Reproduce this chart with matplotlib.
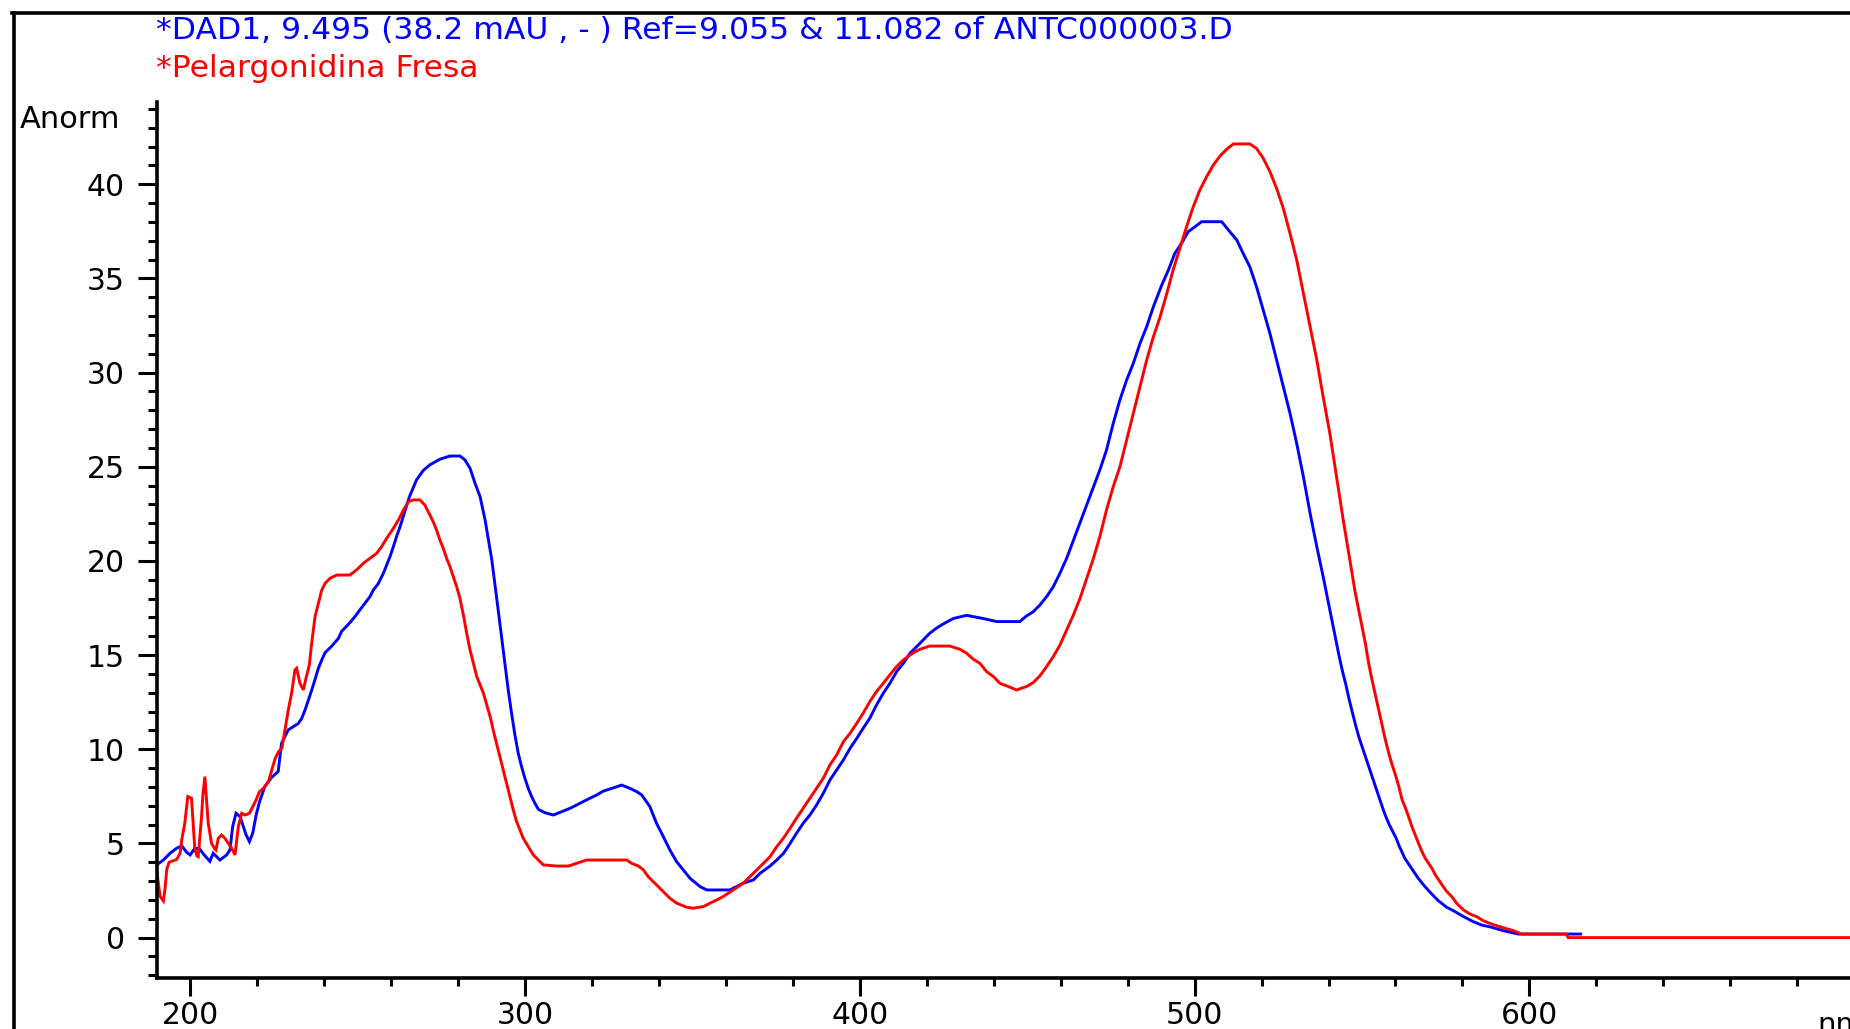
import matplotlib
matplotlib.use("Agg")
import matplotlib.pyplot as plt
from matplotlib.ticker import MultipleLocator, FixedLocator
from matplotlib.lines import Line2D

# ---------------- data ----------------
title_line1 = "*DAD1, 9.495 (38.2 mAU , - ) Ref=9.055 & 11.082 of ANTC000003.D"
title_line2 = "*Pelargonidina Fresa"
y_label = "Anorm"
x_unit = "nm"
x_major_ticks = [200, 300, 400, 500, 600]

blue_nm = [190.0, 192.0, 194.0, 196.0, 197.5, 199.0, 200.0, 201.4, 202.9, 203.9,
           205.9, 206.9, 208.9, 210.9, 211.9, 212.7, 213.7, 214.9, 216.7, 217.7,
           218.7, 219.7, 220.7, 222.3, 224.3, 226.3, 227.3, 229.3, 230.8, 232.3,
           233.3, 234.3, 235.3, 236.3, 237.3, 238.3, 239.3, 240.3, 242.3, 244.3,
           245.2, 247.7, 249.2, 250.7, 252.2, 253.7, 254.7, 256.2, 257.7, 258.7,
           259.7, 260.7, 261.7, 262.7, 263.7, 265.5, 266.7, 267.6, 269.6, 271.6,
           274.6, 277.6, 280.6, 282.1, 283.6, 285.1, 286.6, 288.1, 289.1, 290.1,
           291.0, 292.0, 293.0, 294.0, 295.0, 296.0, 297.0, 298.0, 299.0, 300.0,
           301.0, 302.0, 303.0, 304.0, 306.0, 308.5, 311.0, 313.4, 315.4, 317.4,
           319.4, 321.4, 323.4, 325.9, 328.9, 331.4, 333.4, 334.9, 336.3, 337.3,
           339.3, 341.3, 343.3, 345.3, 347.3, 349.3, 352.3, 354.3, 361.2, 365.2,
           368.2, 370.2, 373.2, 375.2, 377.2, 379.2, 381.1, 383.1, 385.1, 387.1,
           389.1, 391.1, 393.1, 395.1, 397.1, 399.1, 401.0, 403.0, 405.0, 407.0,
           409.0, 411.0, 413.0, 415.0, 417.0, 418.9, 420.9, 422.9, 424.9, 427.9,
           431.9, 436.9, 440.9, 447.8, 449.8, 451.8, 453.8, 455.8, 457.8, 459.8,
           461.8, 471.7, 473.7, 475.7, 477.7, 479.7, 481.7, 483.7, 485.7, 487.7,
           490.2, 492.2, 494.1, 496.1, 498.1, 500.1, 502.1, 508.1, 510.1, 512.6,
           514.5, 516.5, 518.5, 520.5, 522.5, 524.5, 526.5, 528.5, 530.5, 532.5,
           534.5, 536.5, 538.4, 540.2, 541.2, 542.2, 543.2, 544.2, 545.2, 546.2,
           547.2, 548.2, 549.2, 550.2, 551.2, 552.2, 553.2, 554.2, 555.2, 556.2,
           557.2, 558.2, 559.2, 560.2, 561.1, 562.8, 564.8, 566.8, 568.8, 570.8,
           572.8, 575.3, 577.3, 580.3, 583.2, 585.7, 588.7, 592.2, 596.7, 615.3]
blue_abs = [3.86, 4.12, 4.48, 4.75, 4.87, 4.52, 4.39, 4.75, 4.70, 4.45,
            4.05, 4.48, 4.12, 4.39, 4.66, 5.90, 6.60, 6.43, 5.46, 5.10,
            5.55, 6.50, 7.20, 8.02, 8.50, 8.82, 10.32, 11.03, 11.20, 11.37,
            11.63, 12.08, 12.60, 13.14, 13.71, 14.30, 14.74, 15.13, 15.48, 15.89,
            16.25, 16.72, 17.04, 17.40, 17.75, 18.10, 18.45, 18.80, 19.34, 19.78,
            20.23, 20.76, 21.32, 21.82, 22.39, 23.41, 23.91, 24.30, 24.80, 25.10,
            25.40, 25.57, 25.57, 25.36, 24.92, 24.12, 23.41, 22.17, 21.11, 20.05,
            18.81, 17.40, 15.98, 14.56, 13.15, 11.91, 10.76, 9.78, 9.07, 8.45,
            7.92, 7.48, 7.13, 6.81, 6.63, 6.51, 6.69, 6.86, 7.04, 7.22,
            7.40, 7.57, 7.78, 7.92, 8.10, 7.92, 7.75, 7.57, 7.22, 6.96,
            6.07, 5.37, 4.65, 4.03, 3.59, 3.15, 2.71, 2.53, 2.53, 2.89,
            3.06, 3.41, 3.80, 4.12, 4.47, 5.00, 5.54, 6.07, 6.51, 7.04,
            7.66, 8.37, 8.90, 9.43, 10.05, 10.58, 11.11, 11.65, 12.35, 12.97,
            13.50, 14.12, 14.56, 15.10, 15.45, 15.80, 16.16, 16.43, 16.65, 16.94,
            17.11, 16.94, 16.78, 16.78, 17.08, 17.30, 17.66, 18.10, 18.63, 19.35,
            20.14, 24.83, 25.89, 27.30, 28.55, 29.60, 30.49, 31.55, 32.44, 33.50,
            34.65, 35.45, 36.33, 36.86, 37.48, 37.74, 38.01, 38.01, 37.57, 37.04,
            36.33, 35.62, 34.56, 33.33, 32.08, 30.67, 29.25, 27.84, 26.24, 24.47,
            22.53, 20.76, 19.17, 17.58, 16.69, 15.81, 14.92, 14.12, 13.42, 12.62,
            11.91, 11.20, 10.58, 10.05, 9.52, 8.99, 8.46, 7.93, 7.40, 6.87,
            6.39, 5.98, 5.63, 5.28, 4.87, 4.21, 3.68, 3.15, 2.71, 2.32,
            1.96, 1.61, 1.43, 1.12, 0.85, 0.67, 0.55, 0.37, 0.19, 0.19]

red_nm = [190.0, 190.5, 191.0, 192.0, 192.5, 193.0, 193.7, 196.0, 197.0, 197.5,
          198.4, 199.3, 200.4, 201.4, 202.0, 202.4, 203.4, 203.8, 204.4, 205.4,
          206.4, 207.4, 207.7, 208.4, 209.4, 210.4, 211.4, 212.4, 213.4, 214.4,
          215.4, 216.4, 217.7, 218.7, 219.7, 220.7, 221.9, 223.4, 224.4, 225.4,
          226.4, 227.4, 228.4, 229.3, 230.3, 231.3, 231.8, 232.8, 233.8, 234.6,
          235.6, 236.3, 237.3, 238.3, 239.3, 240.3, 241.8, 243.8, 247.7, 249.7,
          251.7, 253.7, 255.7, 257.2, 258.7, 260.7, 262.2, 263.7, 265.2, 266.7,
          268.6, 270.1, 271.6, 272.6, 273.6, 274.6, 275.6, 276.6, 277.6, 278.6,
          279.6, 280.6, 281.6, 282.6, 283.6, 284.6, 285.6, 286.6, 287.6, 288.6,
          289.6, 290.5, 291.5, 292.5, 293.5, 294.5, 295.5, 296.5, 297.5, 298.5,
          299.5, 301.0, 302.5, 304.0, 305.5, 309.5, 313.0, 315.4, 318.4, 324.4,
          330.4, 331.9, 333.9, 335.4, 336.8, 339.3, 341.3, 343.3, 345.3, 348.3,
          350.3, 353.3, 355.3, 357.3, 359.2, 362.2, 365.2, 367.2, 369.2, 371.2,
          373.2, 375.2, 377.2, 379.2, 381.1, 383.1, 385.1, 387.1, 389.1, 391.1,
          393.1, 395.1, 397.1, 399.1, 401.0, 403.0, 405.0, 407.0, 409.0, 411.0,
          413.0, 416.0, 418.0, 420.9, 426.9, 429.9, 431.9, 433.9, 435.9, 437.9,
          439.9, 441.9, 444.4, 446.8, 449.8, 451.8, 453.8, 455.8, 457.8, 459.8,
          461.8, 463.8, 465.8, 467.8, 469.8, 471.7, 473.7, 475.7, 477.7, 479.7,
          481.7, 483.7, 485.7, 487.7, 489.7, 491.7, 493.6, 495.6, 497.6, 499.6,
          501.6, 503.6, 505.6, 507.6, 509.6, 511.6, 516.5, 518.5, 520.5, 522.5,
          524.5, 526.5, 528.5, 530.5, 532.5, 534.5, 536.5, 538.4, 540.4, 542.4,
          544.4, 546.4, 548.0, 549.0, 550.0, 551.0, 552.0, 553.0, 554.0, 555.0,
          556.0, 557.0, 558.0, 559.0, 560.0, 561.0, 562.0, 563.0, 563.9, 564.9,
          565.9, 566.9, 567.9, 568.9, 569.9, 570.9, 571.9, 572.9, 573.9, 575.3,
          576.8, 578.3, 580.3, 582.3, 584.2, 586.2, 588.7, 591.7, 595.2, 597.7,
          611.1, 611.6, 700.0]
red_abs = [3.60, 2.90, 2.20, 1.95, 2.60, 3.60, 4.00, 4.15, 4.48, 5.20,
           6.07, 7.49, 7.40, 4.70, 4.35, 4.30, 6.40, 7.57, 8.55, 6.07,
           5.00, 4.70, 4.65, 5.27, 5.45, 5.27, 5.00, 4.74, 4.39, 5.90,
           6.60, 6.51, 6.60, 6.96, 7.31, 7.75, 7.93, 8.29, 8.90, 9.52,
           9.87, 10.05, 11.11, 12.08, 12.97, 14.21, 14.30, 13.50, 13.15, 13.77,
           14.48, 15.63, 17.04, 17.75, 18.45, 18.81, 19.08, 19.25, 19.25, 19.52,
           19.87, 20.14, 20.40, 20.76, 21.20, 21.73, 22.17, 22.70, 23.15, 23.24,
           23.24, 22.97, 22.44, 22.08, 21.64, 21.11, 20.67, 20.14, 19.70, 19.17,
           18.63, 18.00, 17.13, 16.16, 15.27, 14.56, 13.86, 13.41, 12.97, 12.35,
           11.73, 11.03, 10.32, 9.61, 8.90, 8.20, 7.49, 6.78, 6.16, 5.72,
           5.27, 4.83, 4.39, 4.12, 3.86, 3.80, 3.80, 3.94, 4.12, 4.12,
           4.12, 3.94, 3.80, 3.59, 3.24, 2.80, 2.44, 2.09, 1.83, 1.61,
           1.56, 1.65, 1.83, 2.00, 2.18, 2.53, 2.89, 3.24, 3.59, 3.94,
           4.30, 4.83, 5.28, 5.81, 6.34, 6.87, 7.40, 7.93, 8.46, 9.17,
           9.70, 10.40, 10.85, 11.38, 11.91, 12.53, 13.06, 13.50, 13.95, 14.39,
           14.74, 15.13, 15.31, 15.48, 15.48, 15.31, 15.10, 14.78, 14.56, 14.12,
           13.86, 13.50, 13.33, 13.15, 13.33, 13.54, 13.90, 14.39, 14.92, 15.54,
           16.34, 17.13, 18.02, 19.08, 20.14, 21.29, 22.71, 23.94, 25.00, 26.42,
           27.84, 29.25, 30.67, 31.90, 32.96, 34.20, 35.45, 36.60, 37.74, 38.80,
           39.70, 40.40, 41.02, 41.50, 41.86, 42.14, 42.14, 41.90, 41.38, 40.67,
           39.78, 38.72, 37.39, 35.98, 34.20, 32.44, 30.67, 28.72, 26.77, 24.47,
           22.17, 20.00, 18.30, 17.40, 16.50, 15.63, 14.56, 13.68, 12.88, 12.08,
           11.29, 10.49, 9.79, 9.17, 8.64, 8.02, 7.31, 6.87, 6.43, 5.90,
           5.45, 5.00, 4.57, 4.21, 3.95, 3.68, 3.33, 3.06, 2.80, 2.45,
           2.18, 1.82, 1.47, 1.25, 1.12, 0.90, 0.72, 0.55, 0.37, 0.19,
           0.19, 0.00, 0.00]

# ---------------- figure ----------------
W, H = 1850, 1029
plt.rcParams['font.family'] = ['DejaVu Sans']
fig = plt.figure(figsize=(W / 100, H / 100), dpi=100)
fig.patch.set_facecolor('white')

ax_left = 157 / W
ax_bottom = (H - 978.3) / H
ax_top = (H - 102.3) / H
x_min, x_max = 190.1, 700.0
ax_width = (1864.2 - 157) / W
ax = fig.add_axes([ax_left, ax_bottom, ax_width, ax_top - ax_bottom])

ax.plot(blue_nm, blue_abs, color='#0000FF', lw=2.1, solid_joinstyle='miter')
ax.plot(red_nm, red_abs, color='#FF0000', lw=2.1, solid_joinstyle='miter')

ax.set_xlim(x_min, x_max)
ax.set_ylim(-2.16, 44.35)

for s in ['top', 'right']:
    ax.spines[s].set_visible(False)
for s in ['left', 'bottom']:
    ax.spines[s].set_linewidth(2.6)
    ax.spines[s].set_color('black')

ax.xaxis.set_major_locator(FixedLocator(x_major_ticks))
ax.xaxis.set_minor_locator(MultipleLocator(20))
ax.yaxis.set_major_locator(MultipleLocator(5))
ax.yaxis.set_minor_locator(MultipleLocator(1))

ax.tick_params(axis='y', which='major', direction='out', length=14, width=2.2,
               pad=9, labelsize=21.5, colors='black')
ax.tick_params(axis='y', which='minor', direction='out', length=6.5, width=2.2)
ax.tick_params(axis='x', which='major', direction='out', length=13, width=2.2,
               pad=3, labelsize=21.5, colors='black')
ax.tick_params(axis='x', which='minor', direction='out', length=6, width=2.2)

# texts
fig.text(156 / W, 1 - 39.3 / H, title_line1, color='#0000FF', fontsize=22.6,
         ha='left', va='baseline')
fig.text(156 / W, 1 - 77.3 / H, title_line2, color='#FF0000', fontsize=22.6,
         ha='left', va='baseline')
fig.text(20 / W, 1 - 128 / H, y_label, color='black', fontsize=22,
         ha='left', va='baseline')
fig.text(1817 / W, 1 - 1011 / H, x_unit, color='black', fontsize=21,
         ha='left', va='top')

# outer frame (left and top edges)
fig.add_artist(Line2D([13.5 / W, 13.5 / W], [0, 1 - 12.5 / H], transform=fig.transFigure,
                      color='black', lw=2.6))
fig.add_artist(Line2D([12 / W, 1], [1 - 12.5 / H, 1 - 12.5 / H], transform=fig.transFigure,
                      color='black', lw=2.6))

fig.savefig('out.png', dpi=100, facecolor='white')
